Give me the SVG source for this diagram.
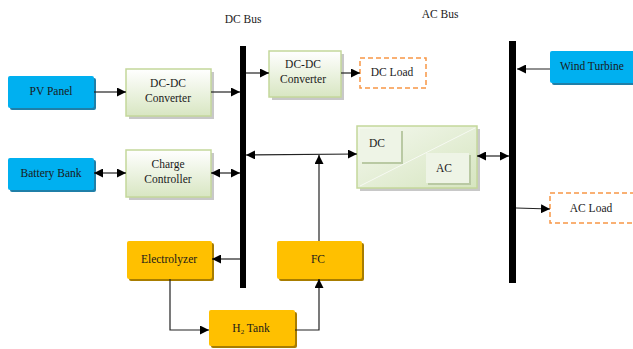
<svg xmlns="http://www.w3.org/2000/svg" width="633" height="349" viewBox="0 0 633 349" font-family="'Liberation Serif', 'Times New Roman', serif">
<defs>
<linearGradient id="gg" x1="0" y1="0" x2="0" y2="1">
<stop offset="0" stop-color="#ffffff"/>
<stop offset="1" stop-color="#d8e6c2"/>
</linearGradient>
<linearGradient id="inv" x1="0" y1="0" x2="1" y2="1">
<stop offset="0" stop-color="#f4f8ee"/>
<stop offset="1" stop-color="#d6e5c0"/>
</linearGradient>
<marker id="ah" viewBox="0 0 10 10" refX="10" refY="5" markerWidth="9" markerHeight="9" markerUnits="userSpaceOnUse" orient="auto-start-reverse">
<path d="M0,0 L10,5 L0,10 z" fill="#000"/>
</marker>
</defs>
<style>
text{font-family:'Liberation Serif','Times New Roman',serif;font-size:11.5px;fill:#1a1a1a;text-anchor:middle}
.blue{fill:#00b0f0}
.bsh{fill:#1f7fa8}
.green{fill:url(#gg);stroke:#c4d79b;stroke-width:1.5}
.gsh{fill:#c8c8c8}
.gold{fill:#ffc000}
.osh{fill:#a87d00}
.load{fill:#fff;stroke:#f79646;stroke-width:1.5;stroke-dasharray:5,3}
.bus{fill:#000}
.c{fill:none;stroke:#222;stroke-width:1.2}
</style>
<rect width="633" height="349" fill="#fff"/>

<g id="dc-bus">
<rect class="bus" x="240" y="46" width="6" height="242"/>
<text x="243" y="23">DC Bus</text>
</g>
<g id="ac-bus">
<rect class="bus" x="509" y="41" width="7" height="242"/>
<text x="440" y="18">AC Bus</text>
</g>

<g id="pv-panel">
<rect class="bsh" x="10" y="78" width="86" height="32" rx="2"/>
<rect class="blue" x="8" y="76" width="86" height="32" rx="2"/>
<text x="51" y="95">PV Panel</text>
</g>
<g id="battery-bank">
<rect class="bsh" x="10" y="160" width="86" height="32" rx="2"/>
<rect class="blue" x="8" y="158" width="86" height="32" rx="2"/>
<text x="51" y="177">Battery Bank</text>
</g>
<g id="dcdc-1">
<rect class="gsh" x="129" y="72" width="85" height="47"/>
<rect class="green" x="126" y="69" width="85" height="47"/>
<text x="168" y="87">DC-DC</text>
<text x="168" y="102">Converter</text>
</g>
<g id="charge-controller">
<rect class="gsh" x="129" y="153" width="85" height="47"/>
<rect class="green" x="126" y="150" width="85" height="47"/>
<text x="168" y="168">Charge</text>
<text x="168" y="183">Controller</text>
</g>
<g id="dcdc-2">
<rect class="gsh" x="272" y="54" width="72" height="46"/>
<rect class="green" x="269" y="51" width="72" height="46"/>
<text x="303" y="68">DC-DC</text>
<text x="303" y="83">Converter</text>
</g>
<g id="dc-load">
<rect class="load" x="360" y="58" width="66" height="30"/>
<text x="392" y="76">DC Load</text>
</g>
<g id="wind-turbine">
<rect class="bsh" x="552" y="53" width="83" height="32" rx="2"/>
<rect class="blue" x="550" y="51" width="85" height="32" rx="2"/>
<text x="592" y="70">Wind Turbine</text>
</g>
<g id="inverter">
<rect class="gsh" x="360" y="129" width="120" height="62"/>
<rect x="357" y="126" width="120" height="62" fill="url(#inv)" stroke="#c4d79b" stroke-width="1.5"/>
<line x1="360" y1="186" x2="475" y2="128" stroke="#ffffff" stroke-width="1" opacity="0.7"/>
<rect x="362" y="131" width="41" height="33" fill="#b9c9a3"/>
<rect x="360" y="129" width="41" height="33" fill="#eef4e6"/>
<text x="377" y="147">DC</text>
<rect x="428" y="155" width="43" height="30" fill="#b9c9a3"/>
<rect x="426" y="153" width="43" height="30" fill="#eef4e6"/>
<text x="444" y="172">AC</text>
</g>
<g id="ac-load">
<rect class="load" x="550" y="193" width="90" height="30"/>
<text x="591" y="212">AC Load</text>
</g>
<g id="electrolyzer">
<rect class="osh" x="129" y="243" width="85" height="38" rx="2"/>
<rect class="gold" x="127" y="241" width="85" height="38" rx="2"/>
<text x="169" y="263">Electrolyzer</text>
</g>
<g id="fc">
<rect class="osh" x="279" y="243" width="85" height="38" rx="2"/>
<rect class="gold" x="277" y="241" width="85" height="38" rx="2"/>
<text x="318" y="263">FC</text>
</g>
<g id="h2-tank">
<rect class="osh" x="211" y="312" width="86" height="36" rx="2"/>
<rect class="gold" x="209" y="310" width="86" height="36" rx="2"/>
<text x="251" y="332">H<tspan font-size="7" dy="2">2</tspan><tspan dy="-2"> Tank</tspan></text>
</g>

<g id="connectors">
<line class="c" x1="94" y1="92" x2="126" y2="92" marker-end="url(#ah)"/>
<line class="c" x1="211" y1="92" x2="240" y2="92" marker-end="url(#ah)"/>
<line class="c" x1="94" y1="173" x2="126" y2="173" marker-start="url(#ah)" marker-end="url(#ah)"/>
<line class="c" x1="211" y1="173" x2="240" y2="173" marker-start="url(#ah)" marker-end="url(#ah)"/>
<line class="c" x1="246" y1="73" x2="269" y2="73" marker-end="url(#ah)"/>
<line class="c" x1="341" y1="73" x2="360" y2="73" marker-end="url(#ah)"/>
<line class="c" x1="246" y1="155" x2="357" y2="154" marker-start="url(#ah)" marker-end="url(#ah)"/>
<line class="c" x1="319" y1="241" x2="319" y2="155" marker-end="url(#ah)"/>
<line class="c" x1="477" y1="156" x2="509" y2="156" marker-start="url(#ah)" marker-end="url(#ah)"/>
<line class="c" x1="550" y1="69" x2="517" y2="69" marker-end="url(#ah)"/>
<line class="c" x1="516" y1="208" x2="550" y2="209" marker-end="url(#ah)"/>
<line class="c" x1="240" y1="259" x2="212" y2="259" marker-end="url(#ah)"/>
<polyline class="c" points="170,279 170,330 209,330" marker-end="url(#ah)"/>
<polyline class="c" points="295,330 319,330 319,279" marker-end="url(#ah)"/>
</g>
</svg>
